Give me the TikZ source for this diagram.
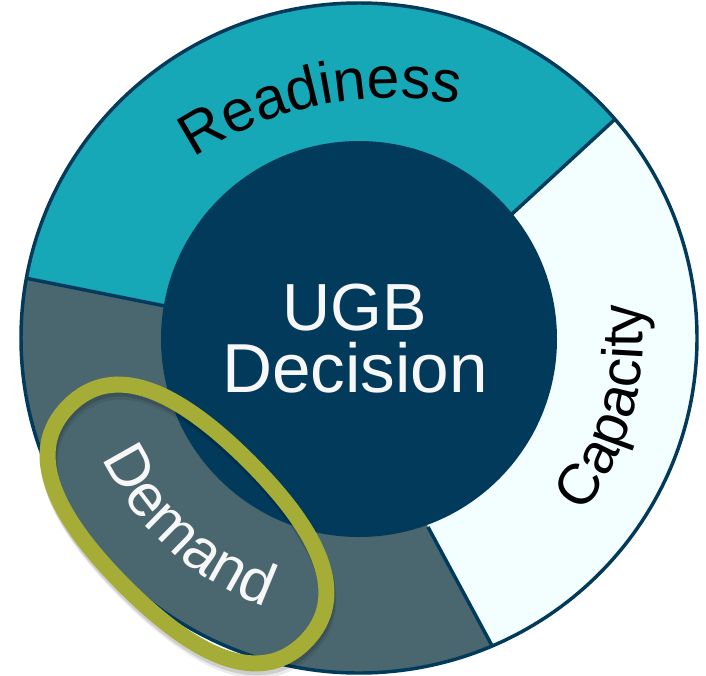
\documentclass[tikz,border=0pt]{standalone}
\usepackage{fontspec}
\setmainfont{Liberation Sans}
\usetikzlibrary{decorations.text}
\definecolor{navy}{HTML}{023A5C}
\definecolor{tealc}{HTML}{17A8B8}
\definecolor{slate}{HTML}{4A666E}
\definecolor{pale}{HTML}{F2FEFF}
\definecolor{olive}{HTML}{A5AD37}
\definecolor{offwhite}{HTML}{F7F7F7}
\tikzset{seg/.style={draw=navy,line width=2.6pt,line join=round},
ringline/.style={line width=12pt},
titletext/.style={text=offwhite,inner sep=0pt,anchor=base},
ringpath/.pic={\path[pic actions] (-167,0) .. controls (-167,-64) and (-100,-88) .. (0,-88) .. controls (100,-88) and (167,-64) .. (167,0) .. controls (167,64) and (100,88) .. (0,88) .. controls (-100,88) and (-167,64) .. (-167,0) -- cycle;}}
\begin{document}
\begin{tikzpicture}[x=0.75pt,y=-0.75pt]
\useasboundingbox (0,0) rectangle (706,675);
\fill[white] (0,0) rectangle (706,675);
\coordinate (c) at (359,338);
\coordinate (a0) at (0,273);
\coordinate (a1) at (165,306);
\coordinate (b0) at (650,87);
\coordinate (b1) at (512,214);
\coordinate (d0) at (510,679);
\coordinate (d1) at (428,527);
\begin{scope}
\clip (c) ellipse[x radius=253.5pt,y radius=251.25pt];
\fill[slate] (0,0) rectangle (706,675);
\fill[tealc] (a0) -- (a1) -- (c) -- (b1) -- (b0) -- (706,0) -- (0,0) -- cycle;
\fill[pale] (b0) -- (b1) -- (c) -- (d1) -- (d0) -- (706,675) -- (706,87) -- cycle;
\draw[seg] (a0) -- (a1) (b0) -- (b1) (d0) -- (d1);
\end{scope}
\draw[seg] (c) ellipse[x radius=253.5pt,y radius=251.25pt];
\node[circle,fill=navy,minimum size=297pt,inner sep=0pt] (hub) at (359,339) {};
\node[titletext,font=\fontsize{50}{50}\selectfont] (ugb) at (355,330) {UGB};
\node[titletext,font=\fontsize{52}{52}\selectfont] (decision) at (355,392) {Decision};
\path[decorate,decoration={text along path,text align=center,text={|\fontsize{44}{44}\selectfont|Readiness}}]
  ([shift={(124:267pt)}]392,454) arc[start angle=124,end angle=79,radius=267pt];
\path[decorate,decoration={text along path,text align=center,text={|\fontsize{43}{43}\selectfont|Capacity}}]
  ([shift={(-40:213pt)}]c) arc[start angle=-40,end angle=9,radius=213pt];
\path[decorate,decoration={text along path,text align=center,text={|\fontsize{45}{45}\selectfont\color{offwhite}|Demand}}]
  ([shift={(199:213pt)}]c) arc[start angle=199,end angle=257,radius=213pt];
\pic[draw=black,opacity=.08,ringline,rotate=-45] at (189,531) {ringpath};
\pic[draw=black,opacity=.12,ringline,rotate=-45] at (188,528) {ringpath};
\pic[draw=olive,ringline,rotate=-45] at (187,524) {ringpath};
\end{tikzpicture}
\end{document}
